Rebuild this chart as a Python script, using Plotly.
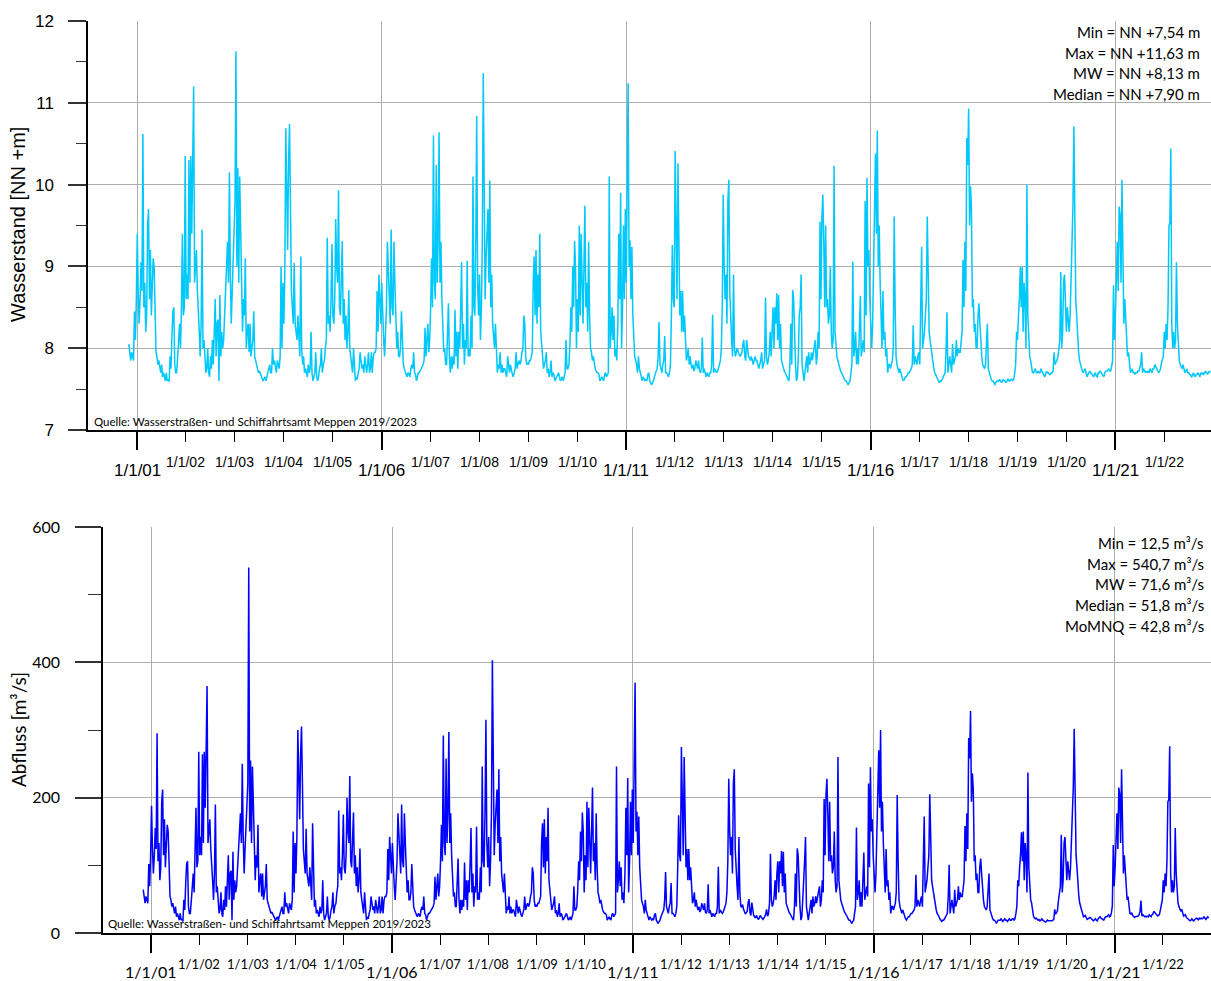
import pandas as pd
import plotly.graph_objects as go

# ---------------- Wasserstand [NN +m], weekly values per hydrological year (Nov-Oct) ----------------
wl_2001 = [8.05,7.9,7.85,7.95,7.9,7.85,8.45,8.1,8.6,9.4,8.7,8.3,8.6,9.05,8.7,10.62,8.5,8.8,8.2,8.4,9.5,9.7,8.6,9.2,8.4,8.8,9.1,9.0,8.3,7.95,7.9,7.8,7.85,7.75,7.7,7.8,7.65,7.7,7.65,7.6,7.7,7.6,7.62,7.59,7.9,7.75,8.15,8.45,8.5,7.8,7.7,7.7]
wl_2002 = [7.9,8.1,8.3,8.0,8.5,9.4,8.4,8.5,10.35,8.6,8.9,8.6,10.3,8.8,10.35,9.4,10.4,11.2,8.8,9.0,9.2,8.7,8.5,8.2,7.9,8.3,9.45,8.0,8.1,7.8,7.7,7.75,8.0,7.7,7.65,7.9,7.75,8.1,7.8,8.2,8.6,7.9,8.3,8.35,7.6,8.65,7.9,8.2,8.0,8.1,8.4,8.7]
wl_2003 = [8.9,9.3,8.8,10.15,8.9,8.3,8.7,9.0,9.5,9.8,11.63,9.0,10.2,8.8,10.1,9.3,8.6,8.2,8.6,8.4,9.1,8.0,8.2,8.3,7.95,8.3,7.9,8.0,8.1,8.45,7.9,7.85,7.8,7.75,7.7,7.72,7.68,7.65,7.63,7.6,7.62,7.65,7.6,7.65,7.7,7.75,7.8,7.7,7.7,8.0,7.8,7.85]
wl_2004 = [7.75,7.7,7.85,7.8,7.75,7.9,9.0,8.0,8.8,8.3,8.9,10.69,10.0,9.2,10.3,10.74,9.8,8.7,8.5,8.3,9.04,8.3,8.2,8.1,8.4,8.0,7.9,9.12,8.0,7.8,7.9,7.7,7.75,7.7,7.65,7.8,7.7,7.75,8.2,7.7,7.6,7.65,7.7,7.95,7.65,7.6,7.65,7.75,7.8,8.0,7.7,7.8]
wl_2005 = [7.85,8.0,8.1,9.35,8.3,8.4,8.2,8.6,9.27,8.4,8.3,8.6,9.58,9.0,8.8,9.93,8.5,8.4,9.0,9.31,8.3,8.6,8.1,8.4,8.0,8.2,8.71,8.0,7.9,7.75,7.7,8.0,7.7,7.6,7.65,7.62,7.7,7.75,7.95,7.8,7.75,7.8,7.7,7.9,7.75,7.7,7.8,7.95,7.7,7.75,7.95,7.7]
wl_2006 = [7.9,7.95,7.95,8.0,8.7,8.2,8.9,8.5,8.3,8.8,8.3,8.1,7.9,8.2,8.5,9.3,9.0,8.6,8.3,9.45,8.5,8.4,9.3,8.8,8.3,8.0,8.2,7.9,7.9,8.0,8.45,8.0,7.8,7.75,7.7,7.68,7.65,7.7,7.68,7.65,7.75,7.8,7.75,7.95,7.7,7.68,7.6,7.68,7.7,7.7,7.72,7.75]
wl_2007 = [7.78,7.8,7.85,8.25,7.9,8.2,8.3,7.95,8.1,8.5,9.1,8.5,10.6,8.8,8.6,10.24,8.8,9.3,10.64,8.8,9.3,8.6,8.2,7.95,8.0,7.8,7.8,8.24,8.55,7.9,7.7,7.9,7.75,7.9,7.8,8.47,7.9,8.2,7.75,8.2,8.0,8.45,9.05,8.0,8.3,7.8,8.1,8.0,9.07,7.9,8.0,7.9]
wl_2008 = [8.4,8.0,10.1,8.5,8.4,9.3,10.84,8.8,8.4,8.9,8.1,8.5,9.3,11.36,10.0,8.6,9.1,9.5,9.7,8.8,10.05,8.5,8.9,8.3,8.1,8.0,8.3,7.9,7.7,7.8,7.75,7.95,7.7,7.8,7.7,7.75,7.75,7.7,7.65,7.9,7.75,7.7,7.8,7.7,7.68,7.65,7.7,7.75,7.95,7.75,7.8,7.85]
wl_2009 = [7.8,7.85,7.95,8.0,8.4,8.3,7.9,7.8,7.82,7.8,7.85,7.85,7.9,7.95,8.8,9.12,8.4,9.2,8.3,8.9,8.5,9.4,8.2,8.0,7.9,7.75,7.8,7.85,7.95,7.7,7.75,7.65,7.7,7.85,7.65,7.7,7.68,7.6,7.62,7.65,7.68,7.7,7.65,7.6,7.62,7.65,7.6,7.65,7.7,8.1,7.75,7.75]
wl_2010 = [7.8,8.05,8.5,8.2,9.0,8.5,9.31,9.0,8.0,8.6,8.2,9.5,8.4,9.4,8.6,8.3,9.0,9.74,8.5,8.8,8.2,9.3,8.4,8.0,7.95,7.85,7.9,7.8,7.75,7.72,7.7,7.7,7.68,7.6,7.62,7.65,7.62,7.6,7.68,7.7,7.65,7.68,7.7,10.1,8.0,8.2,8.5,8.1,8.4,7.9,8.0,7.85]
wl_2011 = [8.3,9.4,8.6,9.9,8.0,8.5,9.5,8.6,9.7,8.8,10.6,11.24,9.0,9.32,8.6,9.24,8.4,8.1,7.9,7.85,7.8,7.7,7.9,7.75,7.7,7.62,7.6,7.65,7.62,7.6,7.62,7.6,7.68,7.7,7.6,7.58,7.55,7.58,7.6,7.65,7.7,7.72,7.75,7.9,8.32,7.8,7.75,7.7,7.8,7.85,8.15,7.7]
wl_2012 = [7.7,7.68,7.65,7.7,7.8,8.4,9.26,8.6,8.5,10.41,9.5,8.6,10.26,9.0,8.4,8.7,8.2,8.7,8.2,8.4,8.0,7.85,7.9,8.0,7.8,7.9,7.8,7.75,7.8,7.72,7.75,7.85,7.8,7.75,7.85,7.72,7.7,7.75,8.13,7.7,7.75,7.7,7.65,7.7,7.68,7.65,7.7,7.7,7.8,8.41,7.7,7.75]
wl_2013 = [7.72,7.7,7.72,7.75,7.8,7.85,8.0,8.5,9.88,9.0,8.6,8.9,8.3,9.8,10.06,8.7,8.3,8.1,7.9,8.9,8.0,7.9,7.95,8.0,7.95,7.92,7.9,7.92,7.95,8.05,8.1,7.9,7.85,8.1,7.95,7.9,7.88,7.85,7.9,7.85,7.8,7.85,7.9,7.85,7.85,7.8,7.75,7.8,7.85,7.95,7.75,7.8]
wl_2014 = [7.85,8.62,7.9,7.8,7.85,7.95,8.2,7.9,8.3,8.5,8.0,8.5,8.3,8.67,8.1,8.65,8.0,8.3,7.85,7.8,7.75,7.72,7.7,7.68,7.65,7.62,7.6,7.8,8.3,7.8,8.71,8.6,8.1,7.8,7.6,7.65,7.9,8.4,8.5,8.9,7.8,7.7,7.6,7.7,7.8,7.9,7.7,7.95,7.8,7.85,7.95,7.85]
wl_2015 = [7.95,8.05,8.1,7.8,7.9,8.2,8.0,9.55,8.6,9.6,9.88,9.3,8.5,9.5,8.5,8.6,8.3,8.4,9.0,8.2,8.0,8.1,10.23,8.2,8.0,7.9,7.85,7.8,7.75,7.72,7.7,7.68,7.65,7.62,7.6,7.6,7.58,7.55,7.58,7.6,7.7,7.8,9.06,7.9,8.0,8.2,7.8,8.0,7.8,8.1,8.64,7.9]
wl_2016 = [8.0,8.1,7.95,9.8,8.4,10.08,9.0,9.2,8.6,8.3,8.0,8.3,9.0,9.8,10.38,9.4,10.66,9.0,9.5,8.8,8.4,8.0,8.7,8.1,8.2,7.9,8.0,7.7,7.8,7.8,7.75,7.8,7.85,8.0,9.61,8.5,7.9,7.8,7.75,7.7,7.75,7.7,7.65,7.62,7.6,7.62,7.65,7.65,7.68,7.7,7.7,7.72]
wl_2017 = [7.75,7.8,8.28,7.8,7.9,7.85,7.8,7.9,7.95,7.8,8.5,9.24,8.0,8.1,8.2,8.4,8.6,9.61,8.61,8.2,8.1,8.0,7.9,7.8,7.75,7.7,7.68,7.65,7.62,7.6,7.58,7.6,7.6,7.62,7.65,7.68,7.7,7.95,8.44,7.7,7.8,7.9,7.8,7.7,8.05,7.8,7.85,7.9,8.1,7.9,8.0,7.95]
wl_2018 = [7.95,8.15,8.2,9.08,8.5,9.3,8.7,10.57,10.24,10.93,9.5,9.98,9.7,8.5,8.6,8.2,8.3,8.0,8.0,8.4,8.55,8.3,8.0,7.9,7.8,7.78,7.75,7.8,8.0,8.3,7.75,7.7,7.65,7.62,7.6,7.6,7.58,7.55,7.58,7.6,7.6,7.6,7.62,7.6,7.58,7.6,7.62,7.6,7.6,7.58,7.6,7.62]
wl_2019 = [7.6,7.6,7.62,7.62,7.6,7.62,7.7,7.8,8.2,8.1,8.4,8.6,8.99,8.5,9.0,8.2,8.8,8.6,8.0,10.0,8.4,8.0,7.9,7.85,7.75,7.7,7.7,7.72,7.75,7.7,7.7,7.72,7.7,7.7,7.75,7.72,7.7,7.68,7.65,7.68,7.72,7.7,7.7,7.68,7.68,7.7,7.7,7.72,7.95,7.8,7.82,7.85]
wl_2020 = [7.9,8.0,8.1,8.93,8.0,8.2,8.8,8.9,8.4,8.2,8.5,8.3,8.2,8.4,8.8,9.4,9.75,10.71,9.6,8.6,8.4,8.1,7.95,7.85,7.8,7.75,7.72,7.7,7.72,7.75,7.7,7.65,7.68,7.7,7.72,7.7,7.68,7.66,7.65,7.68,7.7,7.66,7.65,7.7,7.7,7.72,7.7,7.68,7.66,7.65,7.7,7.72]
wl_2021 = [7.72,7.73,7.75,7.72,7.72,7.78,7.85,8.77,8.1,8.4,8.8,9.3,8.7,9.73,9.63,8.8,10.06,8.9,8.3,8.6,8.3,8.0,7.9,7.95,7.8,7.7,7.72,7.75,7.7,7.7,7.68,7.7,7.7,7.72,7.72,7.75,7.8,7.95,7.7,7.75,7.72,7.7,7.72,7.7,7.72,7.7,7.75,7.72,7.7,7.75,7.75,7.8]
wl_2022 = [7.78,7.75,7.72,7.7,7.72,7.75,7.82,7.85,7.9,8.2,8.0,8.3,8.1,8.5,9.5,9.53,10.44,8.3,8.0,8.2,8.0,8.1,9.05,8.3,8.0,7.85,7.8,7.78,7.75,7.8,7.75,7.7,7.72,7.75,7.7,7.7,7.68,7.68,7.65,7.66,7.7,7.66,7.65,7.68,7.68,7.7,7.68,7.65,7.7,7.68,7.7,7.68]
wl_2023 = [7.7,7.72,7.7,7.68,7.7,7.72,7.7]

# ---------------- Abfluss [m³/s], weekly values per hydrological year (Nov-Oct) ----------------
q_2001 = [64,49,44,54,49,44,102,69,115,188,124,88,115,155,124,295,106,133,78,97,194,212,115,168,97,133,160,150,88,54,49,39,44,34,29,39,24,29,24,19,29,19,21,17,49,34,74,102,106,39,29,29]
q_2002 = [49,69,88,60,106,185,97,106,268,115,142,115,264,133,268,185,272,365,133,150,168,124,106,78,49,88,190,60,69,39,29,34,60,29,24,49,34,69,39,78,115,49,88,92,19,120,49,78,60,69,97,124]
q_2003 = [142,177,133,250,142,88,124,150,194,221,540,150,255,133,246,177,115,78,115,97,160,60,78,88,54,88,49,60,69,102,49,44,39,34,29,31,27,24,22,19,21,24,19,24,29,34,39,29,29,60,39,44]
q_2004 = [34,29,44,39,34,49,150,60,133,88,142,300,238,168,264,305,221,124,106,88,154,88,78,69,97,60,49,162,60,39,49,29,34,29,24,39,29,34,78,29,19,24,29,54,24,19,24,34,39,60,29,39]
q_2005 = [44,60,69,181,88,97,78,115,175,97,88,115,200,150,133,232,106,97,150,178,88,115,69,97,60,78,125,60,49,34,29,60,29,19,24,21,29,34,54,39,34,39,29,49,34,29,39,54,29,34,54,29]
q_2006 = [49,54,54,60,124,78,142,106,88,133,88,69,49,78,106,177,150,115,88,190,106,97,177,133,88,60,78,49,49,60,102,60,39,34,29,27,24,29,27,24,34,39,34,54,29,27,19,27,29,29,31,34]
q_2007 = [37,39,44,83,49,78,88,54,69,106,160,106,292,133,115,258,133,177,297,133,177,115,78,54,60,39,39,82,110,49,29,49,34,49,39,104,49,78,34,78,60,102,155,60,88,39,69,60,157,49,60,49]
q_2008 = [97,60,246,106,97,177,315,133,97,142,69,106,177,403,238,115,160,194,212,133,242,106,142,88,69,60,88,49,29,39,34,54,29,39,29,34,34,29,24,49,34,29,39,29,27,24,29,34,54,34,39,44]
q_2009 = [39,44,54,60,97,88,49,39,41,39,44,44,49,54,133,162,97,168,88,142,106,185,78,60,49,34,39,44,54,29,34,24,29,44,24,29,27,19,21,24,27,29,24,19,21,24,19,24,29,69,34,34]
q_2010 = [39,64,106,78,150,106,178,150,60,115,78,194,97,185,115,88,150,215,106,133,78,177,97,60,54,44,49,39,34,31,29,29,27,19,21,24,21,19,27,29,24,27,29,246,60,78,106,69,97,49,60,44]
q_2011 = [88,185,115,229,60,106,194,115,212,133,292,370,150,179,115,172,97,69,49,44,39,29,49,34,29,21,19,24,21,19,21,19,27,29,19,17,14,17,19,24,29,31,34,49,90,39,34,29,39,44,74,29]
q_2012 = [29,27,24,29,39,97,174,115,106,275,194,115,260,150,97,124,78,124,78,97,60,44,49,60,39,49,39,34,39,31,34,44,39,34,44,31,29,34,72,29,34,29,24,29,27,24,29,29,39,98,29,34]
q_2013 = [31,29,31,34,39,44,60,106,228,150,115,142,88,221,242,124,88,69,49,142,60,40,38,42,35,30,28,30,32,45,50,30,26,45,30,26,24,22,26,22,20,22,26,24,22,20,22,24,28,35,25,28]
q_2014 = [44,117,49,39,44,54,78,49,88,106,60,106,88,121,69,120,60,88,44,39,34,31,29,27,24,21,19,39,88,39,125,115,69,39,19,24,49,97,106,142,39,29,19,29,39,49,29,54,39,44,54,44]
q_2015 = [54,64,69,39,49,78,60,198,115,203,228,177,106,194,106,115,88,97,150,78,60,69,260,78,60,49,44,39,34,31,29,27,24,21,19,19,17,14,17,19,29,39,156,49,60,78,39,60,39,69,119,49]
q_2016 = [60,69,54,221,97,245,150,168,115,88,60,88,150,221,270,185,300,150,194,133,97,60,124,69,78,49,60,29,39,39,34,39,44,60,204,106,49,39,34,29,34,29,24,21,19,21,24,24,27,29,29,31]
q_2017 = [34,39,86,39,49,44,39,49,54,39,106,172,60,69,78,97,115,205,116,78,69,60,49,39,34,29,27,24,21,19,17,19,19,21,24,27,29,54,101,29,39,49,39,29,64,39,44,49,69,49,60,54]
q_2018 = [54,74,78,158,106,177,124,288,258,328,194,236,212,106,115,78,88,60,60,97,110,88,60,49,39,37,34,39,60,88,34,29,24,21,19,19,17,14,17,19,19,19,21,19,17,19,21,19,19,17,19,21]
q_2019 = [19,19,21,21,19,21,29,39,78,69,97,115,149,106,150,78,133,115,60,237,97,60,49,44,30,25,22,21,22,20,19,20,18,19,21,19,18,17,16,17,19,18,18,17,17,18,19,20,35,28,30,33]
q_2020 = [49,60,69,145,60,78,133,142,97,78,106,88,78,97,133,185,216,302,203,115,97,69,54,44,39,34,26,24,25,26,23,20,21,22,23,22,20,19,18,20,21,19,18,21,22,24,22,21,20,19,22,24]
q_2021 = [24,25,27,24,25,30,40,130,69,97,133,177,124,215,205,133,242,142,88,115,88,60,49,54,39,29,28,30,26,25,23,24,24,25,25,27,32,48,25,27,25,24,25,24,25,24,27,25,24,27,28,32]
q_2022 = [30,28,26,25,26,28,35,44,49,78,60,88,69,106,194,197,276,88,60,78,60,69,155,88,60,44,39,36,32,35,30,25,26,27,23,22,21,20,18,19,21,19,18,20,21,22,21,19,22,21,22,21]
q_2023 = [22,24,22,20,22,24,22]

wl_all = {2001: wl_2001, 2002: wl_2002, 2003: wl_2003, 2004: wl_2004, 2005: wl_2005,
          2006: wl_2006, 2007: wl_2007, 2008: wl_2008, 2009: wl_2009, 2010: wl_2010,
          2011: wl_2011, 2012: wl_2012, 2013: wl_2013, 2014: wl_2014, 2015: wl_2015,
          2016: wl_2016, 2017: wl_2017, 2018: wl_2018, 2019: wl_2019, 2020: wl_2020,
          2021: wl_2021, 2022: wl_2022, 2023: wl_2023}
q_all = {2001: q_2001, 2002: q_2002, 2003: q_2003, 2004: q_2004, 2005: q_2005,
         2006: q_2006, 2007: q_2007, 2008: q_2008, 2009: q_2009, 2010: q_2010,
         2011: q_2011, 2012: q_2012, 2013: q_2013, 2014: q_2014, 2015: q_2015,
         2016: q_2016, 2017: q_2017, 2018: q_2018, 2019: q_2019, 2020: q_2020,
         2021: q_2021, 2022: q_2022, 2023: q_2023}

stats_wl = ["Min = NN +7,54 m", "Max = NN +11,63 m", "MW = NN +8,13 m", "Median = NN +7,90 m"]
stats_q = ["Min = 12,5 m³/s", "Max = 540,7 m³/s", "MW = 71,6 m³/s", "Median = 51,8 m³/s", "MoMNQ = 42,8 m³/s"]
source = "Quelle: Wasserstraßen- und Schiffahrtsamt Meppen 2019/2023"
years = list(range(2001, 2023))
major_years = [2001, 2006, 2011, 2016, 2021]


def series(d):
    xs, ys = [], []
    for hy, vals in d.items():
        dates = pd.date_range(f"{hy-1}-11-01", periods=len(vals), freq="7D")
        xs += list(dates)
        ys += list(vals)
    return xs, ys


W, H = 1211, 981
def PX(p): return p / W
def PY(p): return 1 - p / H

wx, wy = series(wl_all)
qx, qy = series(q_all)

fig = go.Figure()
fig.add_trace(go.Scatter(x=wx, y=wy, mode="lines", line=dict(color="#00C8FA", width=1.5),
                         xaxis="x", yaxis="y", hoverinfo="skip", showlegend=False))
fig.add_trace(go.Scatter(x=qx, y=qy, mode="lines", line=dict(color="#0000FF", width=1.5),
                         xaxis="x2", yaxis="y2", hoverinfo="skip", showlegend=False))

ARIAL = "Liberation Sans, Arial, sans-serif"
CAL = "Lato, Carlito, Calibri, sans-serif"
GRID = "#ADADAD"

def xaxis_cfg(dom, rng, major_len, minor_len):
    return dict(domain=dom, range=rng, type="date", showline=True, linecolor="#000", linewidth=1.5,
                ticks="outside", tickvals=[f"{y}-01-01" for y in major_years], ticklen=major_len,
                tickwidth=1.5, tickcolor="#000", showticklabels=False, showgrid=True,
                gridcolor=GRID, gridwidth=1.3, zeroline=False, automargin=False,
                minor=dict(tickvals=[f"{y}-01-01" for y in years], ticklen=minor_len, ticks="outside",
                           tickcolor="#000", tickwidth=1.3, showgrid=False))

fig.update_layout(
    width=W, height=H, margin=dict(l=0, r=0, t=0, b=0, pad=0, autoexpand=False),
    paper_bgcolor="white", plot_bgcolor="white", showlegend=False,
    xaxis=dict(anchor="y", **xaxis_cfg([PX(88), 1.0], ["2000-01-01", "2022-12-18"], 18, 10)),
    xaxis2=dict(anchor="y2", **xaxis_cfg([PX(103), 1.0], ["2000-01-01", "2022-12-31"], 18, 10)),
    yaxis=dict(anchor="x", domain=[PY(430), PY(21)], range=[7, 12], tickvals=[7, 8, 9, 10, 11, 12],
               ticks="outside", ticklen=18, tickwidth=1.5, tickcolor="#333", showline=True,
               linecolor="#000", linewidth=1.5, showgrid=True, gridcolor=GRID, gridwidth=1.3,
               zeroline=False, automargin=False, tickfont=dict(family=ARIAL, size=17, color="#000"),
               ticklabelstandoff=11,
               minor=dict(tickvals=[7.5, 8.5, 9.5, 10.5, 11.5], ticklen=10, ticks="outside",
                          tickcolor="#333", tickwidth=1.3, showgrid=False)),
    yaxis2=dict(anchor="x2", domain=[PY(933), PY(527)], range=[0, 600], tickvals=[0, 200, 400, 600],
                ticks="outside", ticklen=26, tickwidth=1.5, tickcolor="#333", showline=True,
                linecolor="#000", linewidth=1.5, showgrid=True, gridcolor=GRID, gridwidth=1.3,
                zeroline=False, automargin=False, tickfont=dict(family=CAL, size=16, color="#000"),
                ticklabelstandoff=12,
                minor=dict(tickvals=[100, 300, 500], ticklen=13, ticks="outside",
                           tickcolor="#333", tickwidth=1.3, showgrid=False)),
)

ann = []
for y in years:
    lab = f"1/1/{y % 100:02d}"
    big = y in major_years
    ann.append(dict(x=f"{y}-01-01", xref="x", y=PY(470 if big else 461.5), yref="paper", text=lab,
                    showarrow=False, xanchor="center", yanchor="middle",
                    font=dict(family=ARIAL, size=17 if big else 14, color="#000")))
    ann.append(dict(x=f"{y}-01-01", xref="x2", y=PY(971 if big else 964), yref="paper", text=lab,
                    showarrow=False, xanchor="center", yanchor="middle",
                    font=dict(family=CAL, size=16 if big else 13, color="#000")))
ann.append(dict(x=PX(18), y=PY(225), xref="paper", yref="paper", text="Wasserstand [NN +m]",
                textangle=-90, showarrow=False, xanchor="center", yanchor="middle",
                font=dict(family=ARIAL, size=20, color="#000")))
ann.append(dict(x=PX(18), y=PY(730), xref="paper", yref="paper", text="Abfluss [m³/s]",
                textangle=-90, showarrow=False, xanchor="center", yanchor="middle",
                font=dict(family=CAL, size=19, color="#000")))
for i, t in enumerate(stats_wl):
    ann.append(dict(x=PX(1202), y=PY(32 + i * 20.5), xref="paper", yref="paper", text=t,
                    showarrow=False, xanchor="right", yanchor="middle",
                    font=dict(family=CAL, size=15, color="#000")))
for i, t in enumerate(stats_q):
    ann.append(dict(x=PX(1206), y=PY(543 + i * 20.7), xref="paper", yref="paper", text=t,
                    showarrow=False, xanchor="right", yanchor="middle",
                    font=dict(family=CAL, size=15, color="#000")))
ann.append(dict(x=PX(92), y=PY(421), xref="paper", yref="paper", text=source, showarrow=False,
                xanchor="left", yanchor="middle", font=dict(family=CAL, size=11.5, color="#000")))
ann.append(dict(x=PX(106), y=PY(923), xref="paper", yref="paper", text=source, showarrow=False,
                xanchor="left", yanchor="middle", font=dict(family=CAL, size=11.5, color="#000")))
fig.update_layout(annotations=ann)

fig.write_html("out.html")
